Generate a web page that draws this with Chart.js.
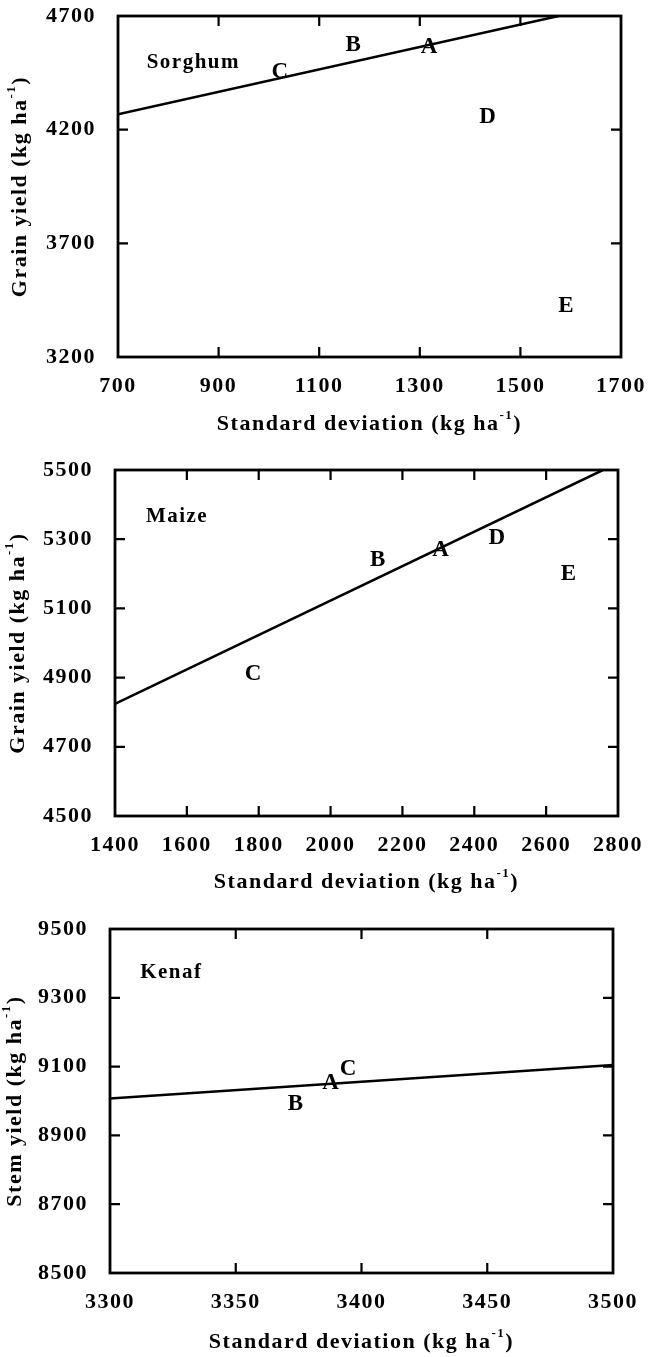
<!DOCTYPE html>
<html>
<head>
<meta charset="utf-8">
<script src="https://cdn.jsdelivr.net/npm/chart.js@4.4.1/dist/chart.umd.min.js"></script>
<style>
    html, body { margin: 0; padding: 0; background: #fff; }
    body { width: 648px; height: 1357px; position: relative; overflow: hidden; }
    .panel { position: absolute; left: 0; width: 648px; }
</style>
</head>
<body>
<div class="panel" style="top:0;height:450px"><canvas id="sorghum"></canvas></div>
<div class="panel" style="top:450px;height:455px"><canvas id="maize"></canvas></div>
<div class="panel" style="top:905px;height:452px"><canvas id="kenaf"></canvas></div>

<script>
// --- data ---
const cropLetters = ['A', 'B', 'C', 'D', 'E'];

const sorghumSD = [1320, 1169, 1023, 1436, 1592];
const sorghumYield = [4564, 4571, 4455, 4256, 3422];
const sorghumLineSD = [700, 1576];
const sorghumLineYield = [4268, 4700];
const sorghumXTicks = [700, 900, 1100, 1300, 1500, 1700];
const sorghumYTicks = [3200, 3700, 4200, 4700];

const maizeSD = [2308, 2133, 1786, 2465, 2664];
const maizeYield = [5270, 5241, 4910, 5303, 5198];
const maizeLineSD = [1400, 2758];
const maizeLineYield = [4824, 5500];
const maizeXTicks = [1400, 1600, 1800, 2000, 2200, 2400, 2600, 2800];
const maizeYTicks = [4500, 4700, 4900, 5100, 5300, 5500];

const kenafLetters = ['A', 'B', 'C'];
const kenafSD = [3388, 3374, 3395];
const kenafYield = [9052, 8991, 9093];
const kenafLineSD = [3300, 3500];
const kenafLineYield = [9007, 9105];
const kenafXTicks = [3300, 3350, 3400, 3450, 3500];
const kenafYTicks = [8500, 8700, 8900, 9100, 9300, 9500];

const FONT = '"Liberation Serif", "Times New Roman", serif';
const SPACING = '1.5px';

Chart.defaults.font.family = FONT;
Chart.defaults.font.size = 22;
Chart.defaults.font.weight = 'bold';
Chart.defaults.color = '#000';

function toPoints(xs, ys) {
    return xs.map((x, i) => ({ x: x, y: ys[i] }));
}

// title with a raised "-1"
function drawUnitTitle(ctx, text, cx, cy, rotation) {
    const sup = '-1';
    ctx.save();
    ctx.translate(cx, cy);
    ctx.rotate(rotation);
    ctx.textBaseline = 'middle';
    ctx.textAlign = 'left';
    ctx.font = `bold 22px ${FONT}`;
    const w1 = ctx.measureText(text).width;
    const w3 = ctx.measureText(')').width;
    ctx.font = `bold 13px ${FONT}`;
    const w2 = ctx.measureText(sup).width;
    let x = -(w1 + w2 + w3) / 2;
    ctx.font = `bold 22px ${FONT}`;
    ctx.fillText(text, x, 0);
    x += w1;
    ctx.font = `bold 13px ${FONT}`;
    ctx.fillText(sup, x, -8);
    x += w2;
    ctx.font = `bold 22px ${FONT}`;
    ctx.fillText(')', x, 0);
    ctx.restore();
}

const framePlugin = {
    id: 'frame',
    beforeDraw(chart) {
        chart.ctx.letterSpacing = SPACING;
    },
    afterDatasetsDraw(chart, args, opts) {
        const ctx = chart.ctx;
        const a = chart.chartArea;
        const xs = chart.scales.x;
        const ys = chart.scales.y;
        const tick = 10;

        ctx.save();
        ctx.strokeStyle = '#000';
        ctx.lineWidth = 2.2;
        ctx.beginPath();
        xs.ticks.forEach(t => {
            if (t.value === xs.min || t.value === xs.max) return;
            const px = xs.getPixelForValue(t.value);
            ctx.moveTo(px, a.bottom); ctx.lineTo(px, a.bottom - tick);
            ctx.moveTo(px, a.top); ctx.lineTo(px, a.top + tick);
        });
        ys.ticks.forEach(t => {
            if (t.value === ys.min || t.value === ys.max) return;
            const py = ys.getPixelForValue(t.value);
            ctx.moveTo(a.left, py); ctx.lineTo(a.left + tick, py);
            ctx.moveTo(a.right, py); ctx.lineTo(a.right - tick, py);
        });
        ctx.stroke();

        ctx.lineWidth = 2.8;
        ctx.strokeRect(a.left, a.top, a.right - a.left, a.bottom - a.top);

        // letters on the scatter points
        ctx.fillStyle = '#000';
        ctx.font = `bold 23px ${FONT}`;
        ctx.textAlign = 'center';
        ctx.textBaseline = 'middle';
        chart.getDatasetMeta(1).data.forEach((pt, i) => {
            ctx.fillText(opts.letters[i], pt.x, pt.y);
        });

        // crop name
        ctx.textAlign = 'left';
        ctx.font = `bold 21px ${FONT}`;
        ctx.fillText(opts.name, xs.getPixelForValue(opts.nameAt[0]), ys.getPixelForValue(opts.nameAt[1]));
        ctx.restore();

        // axis titles
        drawUnitTitle(ctx, 'Standard deviation (kg ha', (a.left + a.right) / 2, opts.xTitleY, 0);
        drawUnitTitle(ctx, opts.yTitle, opts.yTitleX, (a.top + a.bottom) / 2, -Math.PI / 2);
    }
};

function makePanel(id, p) {
    const ctx = document.getElementById(id).getContext('2d');
    return new Chart(ctx, {
        type: 'scatter',
        data: {
            datasets: [
                {
                    data: toPoints(p.lineX, p.lineY),
                    showLine: true,
                    borderColor: '#000',
                    borderWidth: 2.5,
                    pointRadius: 0
                },
                {
                    data: toPoints(p.sd, p.yield),
                    pointRadius: 0,
                    showLine: false
                }
            ]
        },
        options: {
            responsive: true,
            maintainAspectRatio: false,
            animation: false,
            events: [],
            layout: {
                autoPadding: false,
                padding: { top: p.top, right: p.right, left: 0, bottom: 0 }
            },
            plugins: {
                legend: { display: false },
                tooltip: { enabled: false },
                frame: {
                    letters: p.letters,
                    name: p.name,
                    nameAt: p.nameAt,
                    yTitle: p.yTitle,
                    xTitleY: p.xTitleY,
                    yTitleX: p.yTitleX
                }
            },
            scales: {
                x: {
                    type: 'linear',
                    min: p.xTicks[0],
                    max: p.xTicks[p.xTicks.length - 1],
                    afterBuildTicks: s => { s.ticks = p.xTicks.map(v => ({ value: v })); },
                    afterFit: s => {
                        s.height = p.xHeight;
                        s.paddingLeft = 0; s.paddingRight = 0;
                    },
                    grid: { display: false },
                    border: { display: false },
                    ticks: {
                        padding: 8, maxRotation: 0, autoSkip: false,
                        callback: v => String(v)
                    }
                },
                y: {
                    type: 'linear',
                    min: p.yTicks[0],
                    max: p.yTicks[p.yTicks.length - 1],
                    afterBuildTicks: s => { s.ticks = p.yTicks.map(v => ({ value: v })); },
                    afterFit: s => {
                        s.width = p.left;
                        s.paddingTop = 0; s.paddingBottom = 0;
                    },
                    grid: { display: false },
                    border: { display: false },
                    ticks: {
                        padding: 14, autoSkip: false,
                        callback: v => String(v)
                    }
                }
            }
        },
        plugins: [framePlugin]
    });
}

makePanel('sorghum', {
    lineX: sorghumLineSD, lineY: sorghumLineYield,
    sd: sorghumSD, yield: sorghumYield, letters: cropLetters,
    xTicks: sorghumXTicks, yTicks: sorghumYTicks,
    name: 'Sorghum', nameAt: [757, 4496],
    yTitle: 'Grain yield (kg ha',
    top: 16, right: 27, left: 118, xHeight: 93,
    xTitleY: 424, yTitleX: 20
});

makePanel('maize', {
    lineX: maizeLineSD, lineY: maizeLineYield,
    sd: maizeSD, yield: maizeYield, letters: cropLetters,
    xTicks: maizeXTicks, yTicks: maizeYTicks,
    name: 'Maize', nameAt: [1486, 5366],
    yTitle: 'Grain yield (kg ha',
    top: 20, right: 30, left: 115, xHeight: 89,
    xTitleY: 432, yTitleX: 18
});

makePanel('kenaf', {
    lineX: kenafLineSD, lineY: kenafLineYield,
    sd: kenafSD, yield: kenafYield, letters: kenafLetters,
    xTicks: kenafXTicks, yTicks: kenafYTicks,
    name: 'Kenaf', nameAt: [3312, 9373],
    yTitle: 'Stem yield (kg ha',
    top: 24, right: 35, left: 110, xHeight: 84,
    xTitleY: 437, yTitleX: 15
});
</script>
</body>
</html>
